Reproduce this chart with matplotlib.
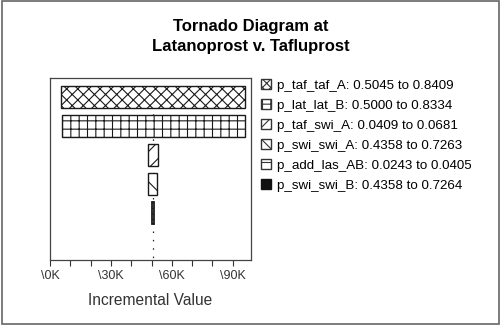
import matplotlib
matplotlib.use("Agg")
import matplotlib.pyplot as plt
from matplotlib.patches import Patch, Rectangle

plt.rcParams['font.family'] = ['Liberation Sans', 'DejaVu Sans']
plt.rcParams['hatch.linewidth'] = 0.8

params = ["p_taf_taf_A", "p_lat_lat_B", "p_taf_swi_A", "p_swi_swi_A", "p_add_las_AB", "p_swi_swi_B"]
ranges = ["0.5045 to 0.8409", "0.5000 to 0.8334", "0.0409 to 0.0681",
          "0.4358 to 0.7263", "0.0243 to 0.0405", "0.4358 to 0.7264"]
low_vals = [5.5, 6.0, 48.5, 48.3, 50.2, 50.8]    # thousands
high_vals = [96.0, 96.0, 53.0, 52.6, 51.3, 50.8]
base_value = 50.8
hatches = ["xxx", "++", "//", "\\\\", "---", None]
legend_hatches = ["xxxx", "++", "///", "\\\\\\", "--", None]
xticks = [0, 30, 60, 90]
xtick_labels = ["\\0K", "\\30K", "\\60K", "\\90K"]

W, H = 503, 328
fig = plt.figure(figsize=(W / 100, H / 100), dpi=100)
ax = fig.add_axes([50 / W, 1 - 260 / H, 201 / W, 182 / H])

for i in range(len(params)):
    lo, hi = low_vals[i], high_vals[i]
    if hatches[i] is None:
        fc, hatch = "#111111", None
    else:
        fc, hatch = "white", hatches[i]
    w = hi - lo
    lw = 0 if w == 0 else (1.3 if w < 2 else 1.0)
    ax.barh(i, w, left=lo, height=0.75, color=fc, edgecolor="#1a1a1a",
            hatch=hatch, linewidth=lw, zorder=3)

ax.plot([base_value, base_value], [0.0, 5.6], linestyle=(0, (1.2, 5.5)), color="#222222",
        linewidth=0.9, zorder=1)

ax.set_xlim(0, 99)
ax.set_ylim(5.63, -0.645)
ax.set_yticks([])
ax.set_xticks(xticks)
ax.set_xticklabels(xtick_labels, fontsize=9, color="#333333")
ax.set_xticks(range(0, 100, 10), minor=True)
ax.tick_params(axis="x", which="both", direction="out", length=4, width=0.8, colors="#333333",
               labelcolor="#333333", pad=3)
for s in ax.spines.values():
    s.set_color("#444444")
    s.set_linewidth(0.9)
ax.set_xlabel("Incremental Value", fontsize=11.2, color="#333333", labelpad=8)

fig.text(251 / W, 1 - 36.5 / H, "Tornado Diagram at\nLatanoprost v. Tafluprost", ha="center",
         va="center", fontsize=12, fontweight="bold", linespacing=1.45)

handles = []
for i in range(len(params)):
    if legend_hatches[i] is None:
        handles.append(Patch(facecolor="#111111", edgecolor="#111111"))
    else:
        handles.append(Patch(facecolor="white", edgecolor="#333333", hatch=legend_hatches[i]))
labels = [f"{p}: {r}" for p, r in zip(params, ranges)]
fig.legend(handles, labels, loc="upper left", bbox_to_anchor=(261 / W, 1 - 79 / H),
           frameon=False, fontsize=9.6, handlelength=0.75, handleheight=0.75,
           handletextpad=0.45, labelspacing=0.56, borderaxespad=0, borderpad=0)

fig.patches.append(Rectangle((2 / W, 4 / H), 497 / W, 323 / H, transform=fig.transFigure,
                             fill=False, edgecolor="#666666", linewidth=1.2))

fig.savefig("out.png", dpi=100)
